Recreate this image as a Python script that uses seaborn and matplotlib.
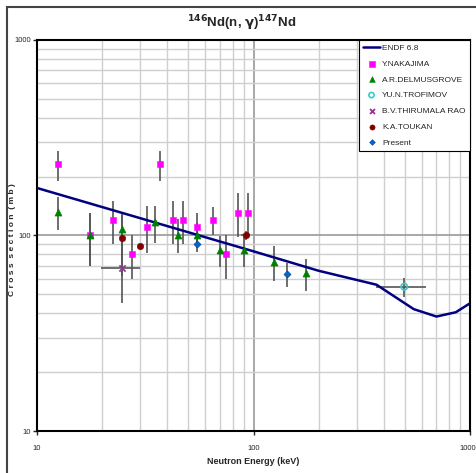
import matplotlib
matplotlib.use("Agg")
import matplotlib.pyplot as plt
import matplotlib.patches as mpatches
import matplotlib.ticker as mticker
import matplotlib.transforms as mtrans
import seaborn as sns
import pandas as pd
import numpy as np

# ---------------- data ----------------
endf_e = [10, 100, 200, 370, 550, 700, 860, 1000]
endf_y = [175, 83, 66, 56, 42, 38.5, 40.5, 45]

nak_e = [12.5, 17.5, 22.4, 27.4, 32.2, 37.1, 42.3, 47.1, 54.8, 64.8, 75, 84.5, 94.4]
nak_y = [231, 100, 120, 80, 111, 231, 120, 120, 111, 120, 80, 131, 131]
nak_err = [40, 30, 30, 20, 30, 40, 30, 30, 20, 20, 20, 33, 33]

del_e = [12.5, 17.5, 24.8, 34.9, 44.8, 54.8, 69.8, 90, 125, 175]
del_y = [132, 100, 108, 117, 101, 101, 84, 84, 73.5, 64]
del_err = [25, 30, 20, 25, 20, 15, 15, 15, 15, 12]

tro_e = [497]
tro_y = [54.7]
tro_yerr = [6]
tro_xerr = [130]

rao_e = [24.8]
rao_y = [68]
rao_yerr = [23]
rao_xerr = [5]

tou_e = [24.8, 29.8, 92]
tou_y = [97, 88, 100]
tou_yerr = [35, 3, 5]
tou_xerr = [0, 0, 4]

pre_e = [54.8, 143]
pre_y = [90.5, 63.4]
pre_err = [8, 9]

labels = ["ENDF 6.8", "Y.NAKAJIMA", "A.R.DELMUSGROVE", "YU.N.TROFIMOV",
          "B.V.THIRUMALA RAO", "K.A.TOUKAN", "Present"]

# ---------------- style ----------------
sns.set_style("white")
FONT = ['Liberation Sans Narrow', 'Liberation Sans', 'DejaVu Sans']
plt.rcParams['font.family'] = FONT

fig = plt.figure(figsize=(4.76, 4.73), dpi=100)
ax = fig.add_axes([37/476, 1-431/473, (470-37)/476, (431-40)/473])

ax.set_xscale('log')
ax.set_yscale('log')
ax.set_xlim(10, 1000)
ax.set_ylim(10, 1000)

# grid
ax.xaxis.set_minor_locator(mticker.LogLocator(base=10, subs=np.arange(2, 10)))
ax.yaxis.set_minor_locator(mticker.LogLocator(base=10, subs=np.arange(2, 10)))
ax.grid(which='minor', color='#cfcfcf', linewidth=1.0)
ax.grid(which='major', color='#9a9a9a', linewidth=1.2)
ax.set_axisbelow(True)

err_kw = dict(fmt='none', ecolor='#555555', elinewidth=1.2, capsize=0, zorder=2)

# error bars
ax.errorbar(nak_e, nak_y, yerr=nak_err, **err_kw)
ax.errorbar(del_e, del_y, yerr=del_err, **err_kw)
ax.errorbar(tro_e, tro_y, yerr=tro_yerr, xerr=tro_xerr, **err_kw)
ax.errorbar(rao_e, rao_y, yerr=rao_yerr, xerr=rao_xerr, **err_kw)
ax.errorbar(tou_e, tou_y, yerr=tou_yerr, xerr=tou_xerr, **err_kw)
ax.errorbar(pre_e, pre_y, yerr=pre_err, **err_kw)

# ENDF line
df_endf = pd.DataFrame({'E': endf_e, 'y': endf_y})
sns.lineplot(data=df_endf, x='E', y='y', ax=ax, color='#000080', linewidth=1.8,
             label=labels[0], zorder=3)

def pts(e, y, **kw):
    d = pd.DataFrame({'E': e, 'y': y})
    sns.scatterplot(data=d, x='E', y='y', ax=ax, zorder=4, **kw)

pts(nak_e, nak_y, marker='s', s=22, color='#ff00ff', edgecolor='#ff00ff', label=labels[1])
pts(del_e, del_y, marker='^', s=26, color='#008000', edgecolor='#008000', label=labels[2])
pts(tro_e, tro_y, marker='o', s=22, facecolor='none', edgecolor='#33cccc', linewidth=1.2, label=labels[3])
pts(rao_e, rao_y, marker='x', s=20, color='#993399', linewidth=1.3, label=labels[4])
pts(tou_e, tou_y, marker='o', s=22, color='#800000', edgecolor='#800000', label=labels[5])
pts(pre_e, pre_y, marker='D', s=14, color='#0066cc', edgecolor='#003399', label=labels[6])

# ticks
ax.set_xticks([10, 100, 1000])
ax.set_xticklabels(['10', '100', '1000'])
ax.set_yticks([10, 100, 1000])
ax.set_yticklabels(['10', '100', '1000'])
ax.tick_params(which='major', direction='out', length=3, width=1, labelsize=5.5,
               left=True, bottom=True)
ax.tick_params(axis='x', pad=7)
ax.tick_params(axis='y', pad=1.5)
ax.tick_params(which='minor', length=0)
for lab in ax.get_xticklabels() + ax.get_yticklabels():
    lab.set_family(FONT)
# keep the rightmost x label within the picture
xl = ax.get_xticklabels()
xl[-1].set_horizontalalignment('right')
xl[-1].set_transform(xl[-1].get_transform() + mtrans.ScaledTranslation(6/100, 0, fig.dpi_scale_trans))

for s in ax.spines.values():
    s.set_color('black')
    s.set_linewidth(1.5)

ax.set_xlabel('Neutron Energy (keV)', fontsize=6.5, fontweight='bold', labelpad=4)
ax.set_ylabel('')
fig.text(13/476, 1-240/473, 'C r o s s  s e c t i o n  ( m b )', rotation=90,
         ha='center', va='center', fontsize=6, fontweight='bold')

fig.text(242/476, 1-23/473, r'$\mathbf{^{146}}$Nd(n, $\mathbf{\gamma}$)$\mathbf{^{147}}$Nd',
         ha='center', va='center', fontsize=9.5, fontweight='bold')

leg = ax.legend(loc='upper right', bbox_to_anchor=(1.0, 1.0), borderaxespad=0.0,
                fontsize=6, frameon=True, fancybox=False, edgecolor='black',
                framealpha=1, handlelength=2.0, handletextpad=0.3,
                labelspacing=0.95, borderpad=0.5, markerscale=0.8)
leg.get_frame().set_linewidth(0.8)

# outer border of the chart
fig.patches.append(mpatches.Rectangle((7/476, -0.05), 1.2, 1-7/473+0.05,
                                      transform=fig.transFigure, fill=False,
                                      edgecolor='#444444', linewidth=1.5))

fig.savefig('out.png', dpi=100)
